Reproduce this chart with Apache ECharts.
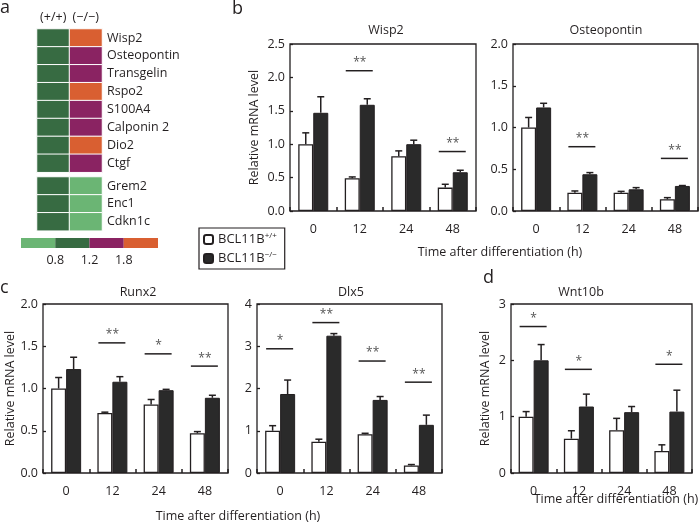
<!DOCTYPE html>
<html><head><meta charset="utf-8">
<script src="https://cdn.jsdelivr.net/npm/echarts@6/dist/echarts.min.js"></script>
<style>html,body{margin:0;padding:0;background:#fff}#c{width:700px;height:523px}</style>
</head><body><div id="c"></div>
<script>
// ---------- data ----------
const genotypes = ['(+/+)', '(\u2212/\u2212)'];
const genesTop = ['Wisp2', 'Osteopontin', 'Transgelin', 'Rspo2', 'S100A4', 'Calponin 2', 'Dio2', 'Ctgf'];
const genesBottom = ['Grem2', 'Enc1', 'Cdkn1c'];
const heatWTTop = [1.0, 1.0, 1.0, 1.0, 1.0, 1.0, 1.0, 1.0];
const heatKOTop = [2.0, 1.5, 1.5, 2.0, 1.5, 1.5, 2.0, 1.5];
const heatWTBottom = [1.0, 1.0, 1.0];
const heatKOBottom = [0.6, 0.6, 0.6];
const colorBreaks = [0.8, 1.2, 1.8];
const colorBarLabels = ['0.8', '1.2', '1.8'];

const timeLabels = ['0', '12', '24', '48'];
const seriesNames = ['BCL11B+/+', 'BCL11B\u2212/\u2212'];

const wisp2WT = [1.0, 0.49, 0.82, 0.35];
const wisp2WTErr = [0.17, 0.02, 0.08, 0.05];
const wisp2KO = [1.47, 1.59, 1.0, 0.58];
const wisp2KOErr = [0.24, 0.09, 0.06, 0.03];
const wisp2Sig = [[1, 2.10, '**'], [3, 0.89, '**']];

const optnWT = [1.0, 0.22, 0.22, 0.14];
const optnWTErr = [0.12, 0.02, 0.015, 0.02];
const optnKO = [1.24, 0.44, 0.26, 0.30];
const optnKOErr = [0.05, 0.02, 0.02, 0.005];
const optnSig = [[1, 0.77, '**'], [3, 0.63, '**']];

const runx2WT = [1.0, 0.71, 0.81, 0.47];
const runx2WTErr = [0.13, 0.01, 0.06, 0.02];
const runx2KO = [1.23, 1.08, 0.98, 0.89];
const runx2KOErr = [0.14, 0.06, 0.01, 0.03];
const runx2Sig = [[1, 1.54, '**'], [2, 1.41, '*'], [3, 1.265, '**']];

const dlx5WT = [1.0, 0.74, 0.92, 0.18];
const dlx5WTErr = [0.12, 0.06, 0.02, 0.02];
const dlx5KO = [1.87, 3.25, 1.73, 1.14];
const dlx5KOErr = [0.33, 0.05, 0.08, 0.23];
const dlx5Sig = [[0, 2.94, '*'], [1, 3.56, '**'], [2, 2.65, '**'], [3, 2.15, '**']];

const wnt10bWT = [1.0, 0.61, 0.76, 0.39];
const wnt10bWTErr = [0.09, 0.14, 0.21, 0.11];
const wnt10bKO = [2.0, 1.18, 1.08, 1.09];
const wnt10bKOErr = [0.28, 0.22, 0.10, 0.38];
const wnt10bSig = [[0, 2.60, '*'], [1, 1.84, '*'], [3, 1.93, '*']];

// ---------- styles ----------
const ink = '#231f20';
const font = 'Open Sans';
const heatColors = ['#6bb574', '#376b42', '#8a2362', '#d95f31'];
const BW = 15;

const panels = [
  {title: 'Wisp2', wt: wisp2WT, wte: wisp2WTErr, ko: wisp2KO, koe: wisp2KOErr, sig: wisp2Sig,
   grid: {left: 290, top: 44, width: 186, height: 167}, max: 2.5, step: 0.5, dec: 1, yname: true, nameGap: 29, titleX: 386, titleY: 30},
  {title: 'Osteopontin', wt: optnWT, wte: optnWTErr, ko: optnKO, koe: optnKOErr, sig: optnSig,
   grid: {left: 513, top: 44, width: 185, height: 167}, max: 2.0, step: 0.5, dec: 1, yname: false, titleX: 606, titleY: 30},
  {title: 'Runx2', wt: runx2WT, wte: runx2WTErr, ko: runx2KO, koe: runx2KOErr, sig: runx2Sig,
   grid: {left: 43, top: 304, width: 185, height: 169}, max: 2.0, step: 0.5, dec: 1, yname: true, nameGap: 23, titleX: 138, titleY: 292},
  {title: 'Dlx5', wt: dlx5WT, wte: dlx5WTErr, ko: dlx5KO, koe: dlx5KOErr, sig: dlx5Sig,
   grid: {left: 257, top: 304, width: 185, height: 169}, max: 4, step: 1, dec: 0, yname: false, titleX: 351, titleY: 292},
  {title: 'Wnt10b', wt: wnt10bWT, wte: wnt10bWTErr, ko: wnt10bKO, koe: wnt10bKOErr, sig: wnt10bSig,
   grid: {left: 511, top: 304, width: 181, height: 169}, max: 3, step: 1, dec: 0, yname: true, nameGap: 19, titleX: 581, titleY: 292}
];

const grids = [], xAxes = [], yAxes = [], series = [];

// ---------- heatmap (panel a) ----------
function heatPanel(genes, wt, ko, top, showHeader) {
  const gi = grids.length;
  grids.push({left: 37, top: top, width: 65, height: genes.length * 17.9});
  xAxes.push({type: 'category', gridIndex: gi, data: genotypes, position: 'top',
    axisLine: {show: false}, axisTick: {show: false},
    axisLabel: {show: showHeader, interval: 0, color: ink, fontFamily: font, fontSize: 12.5, margin: 5}});
  yAxes.push({type: 'category', gridIndex: gi, data: genes, inverse: true, position: 'right',
    axisLine: {show: false}, axisTick: {show: false},
    axisLabel: {interval: 0, color: ink, fontFamily: font, fontSize: 12.5, margin: 5}});
  const data = [];
  genes.forEach((g, i) => { data.push([0, i, wt[i]]); data.push([1, i, ko[i]]); });
  series.push({type: 'heatmap', xAxisIndex: gi, yAxisIndex: gi, data: data,
    itemStyle: {borderColor: '#fff', borderWidth: 1}, silent: true});
  return series.length - 1;
}
const h1 = heatPanel(genesTop, heatWTTop, heatKOTop, 29, true);
const h2 = heatPanel(genesBottom, heatWTBottom, heatKOBottom, 177, false);

// colour bar
{
  const gi = grids.length;
  grids.push({left: 21, top: 238, width: 137, height: 10});
  xAxes.push({type: 'value', gridIndex: gi, min: 0, max: heatColors.length, interval: 1,
    axisLine: {show: false}, axisTick: {show: false}, splitLine: {show: false},
    axisLabel: {color: ink, fontFamily: font, fontSize: 12.5, margin: 6,
      formatter: v => (v >= 1 && v <= colorBarLabels.length) ? colorBarLabels[v - 1] : ''}});
  yAxes.push({type: 'category', gridIndex: gi, data: ['scale'], show: false});
  heatColors.forEach((c, k) => {
    series.push({type: 'bar', xAxisIndex: gi, yAxisIndex: gi, stack: 'cb', data: [1],
      barWidth: 10, itemStyle: {color: c}, silent: true});
  });
}

// ---------- bar panels ----------
function errSeries(gi, means, errs, shift) {
  return {type: 'custom', xAxisIndex: gi, yAxisIndex: gi, silent: true, z: 5,
    data: means.map((m, i) => [i, m, m + errs[i]]),
    renderItem: (params, api) => {
      const b = api.coord([api.value(0), api.value(1)]);
      const t = api.coord([api.value(0), api.value(2)]);
      const x = b[0] + shift;
      return {type: 'group', children: [
        {type: 'line', shape: {x1: x, y1: b[1], x2: x, y2: t[1]}, style: {stroke: ink, lineWidth: 1.5}},
        {type: 'line', shape: {x1: x - 3.5, y1: t[1], x2: x + 3.5, y2: t[1]}, style: {stroke: ink, lineWidth: 1.5}}
      ]};
    }};
}
function sigSeries(gi, sig) {
  return {type: 'custom', xAxisIndex: gi, yAxisIndex: gi, silent: true, z: 6,
    data: sig.map(s => [s[0], s[1]]),
    renderItem: (params, api) => {
      const p = api.coord([api.value(0), api.value(1)]);
      const label = sig[params.dataIndex][2];
      return {type: 'group', children: [
        {type: 'line', shape: {x1: p[0] - 14, y1: p[1], x2: p[0] + 13, y2: p[1]}, style: {stroke: ink, lineWidth: 1.5}},
        {type: 'text', style: {text: label, x: p[0], y: p[1] - 2, align: 'center', verticalAlign: 'bottom',
          fill: '#555', font: '12px "Open Sans"'}}
      ]};
    }};
}

panels.forEach(p => {
  const gi = grids.length;
  grids.push(Object.assign({show: true, borderColor: ink, borderWidth: 1.3, backgroundColor: 'transparent'}, p.grid));
  xAxes.push({type: 'category', gridIndex: gi, data: timeLabels,
    axisLine: {show: false}, axisTick: {show: true, inside: true, length: 4, lineStyle: {color: ink, width: 1.5}},
    axisLabel: {color: ink, fontFamily: font, fontSize: 12.5, margin: 12}});
  yAxes.push({type: 'value', gridIndex: gi, min: 0, max: p.max, interval: p.step,
    name: p.yname ? 'Relative mRNA level' : '', nameLocation: 'middle', nameGap: p.nameGap || 20,
    nameTextStyle: {color: ink, fontFamily: font, fontSize: 12.5},
    axisLine: {show: false}, splitLine: {show: false},
    axisTick: {show: true, inside: true, length: 3, lineStyle: {color: ink, width: 1.3}},
    axisLabel: {color: ink, fontFamily: font, fontSize: 12.5, margin: 5, formatter: v => v.toFixed(p.dec)}});
  series.push({type: 'bar', name: seriesNames[0], xAxisIndex: gi, yAxisIndex: gi, data: p.wt,
    barWidth: BW, barGap: '0%', itemStyle: {color: '#fff', borderColor: ink, borderWidth: 1.3}});
  series.push({type: 'bar', name: seriesNames[1], xAxisIndex: gi, yAxisIndex: gi, data: p.ko,
    barWidth: BW, barGap: '0%', itemStyle: {color: '#2a2a2a', borderColor: ink, borderWidth: 1}});
  series.push(errSeries(gi, p.wt, p.wte, -BW / 2));
  series.push(errSeries(gi, p.ko, p.koe, BW / 2));
  series.push(sigSeries(gi, p.sig));
});

// ---------- loose text ----------
const txt = (t, x, y, size, align) => ({type: 'text', x: x, y: y,
  style: {text: t, fill: ink, font: size + 'px "Open Sans"', align: align || 'center', verticalAlign: 'middle'}});
const graphic = [
  txt('a', 0, 8, 18, 'left'),
  txt('b', 232, 9, 18, 'left'),
  txt('c', 0, 288, 18, 'left'),
  txt('d', 483, 278, 18, 'left'),
  txt('Time after differentiation (h)', 500, 252, 12.5),
  txt('Time after differentiation (h)', 238, 516, 12.5),
  txt('Time after differentiation (h)', 616, 499, 12.5)
];
panels.forEach(p => graphic.push(txt(p.title, p.titleX, p.titleY, 12.5)));

const chart = echarts.init(document.getElementById('c'), null, {renderer: 'canvas'});
chart.setOption({
  animation: false,
  textStyle: {fontFamily: font, color: ink},
  grid: grids, xAxis: xAxes, yAxis: yAxes, series: series, graphic: graphic,
  visualMap: {type: 'piecewise', show: false, seriesIndex: [h1, h2], dimension: 2,
    pieces: [
      {lt: colorBreaks[0], color: heatColors[0]},
      {gte: colorBreaks[0], lt: colorBreaks[1], color: heatColors[1]},
      {gte: colorBreaks[1], lt: colorBreaks[2], color: heatColors[2]},
      {gte: colorBreaks[2], color: heatColors[3]}
    ]},
  legend: {data: seriesNames, left: 199, top: 228, orient: 'vertical',
    itemWidth: 9, itemHeight: 9, itemGap: 5, padding: [4, 8, 4, 4],
    borderColor: ink, borderWidth: 1.2, selectedMode: false,
    formatter: n => '{a|BCL11B}{s|' + n.slice(6) + '}',
    textStyle: {rich: {
      a: {fontFamily: font, fontSize: 13, color: ink},
      s: {fontFamily: font, fontSize: 8, color: ink, padding: [0, 0, 7, 0]}
    }}}
});
</script></body></html>
